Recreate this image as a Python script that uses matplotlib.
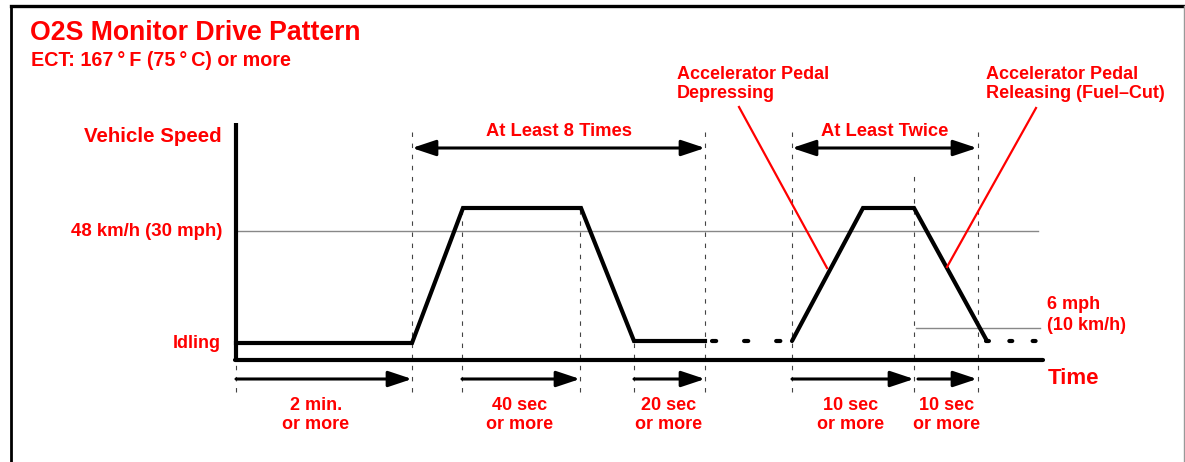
import matplotlib
matplotlib.use("Agg")
import matplotlib.pyplot as plt
from matplotlib.lines import Line2D

plt.rcParams['font.family'] = ['Liberation Sans', 'DejaVu Sans']
plt.rcParams['font.weight'] = 'bold'

RED = '#ff0000'

# schematic values (x = position along time axis, y = height above time axis)
axis_start = 236
axis_end = 1043
axis_top = 237

idle = 17
idle2 = 19
peak = 152
ref_48 = 129
ref_6 = 32

# speed pattern: first cycle, second cycle
cycle1_t = [236, 412, 463, 581, 634, 705]
cycle1_v = [idle, idle, peak, peak, idle2, idle2]
cycle2_t = [792, 863, 914, 987]
cycle2_v = [idle2, peak, peak, idle2]
gap1_t = [712, 790]
gap2_t = [986, 1040]

# dashed guide lines: position, top
guide_t = [236, 412, 462, 580, 634, 705, 792, 914, 978]
guide_top = [0, 232, 150, 150, 17, 232, 232, 187, 232]
guide_bottom = -32

# duration arrows below time axis
dur_start = [236, 462, 634, 792, 918]
dur_end = [412, 580, 705, 914, 977]
dur_text = ["2 min.\nor more", "40 sec\nor more", "20 sec\nor more",
            "10 sec\nor more", "10 sec\nor more"]
dur_x = [316, 520, 669, 851, 947]

# repeat arrows above
rep_start = [412, 792]
rep_end = [705, 977]
rep_text = ["At Least 8 Times", "At Least Twice"]

fig = plt.figure(figsize=(11.85, 4.62), dpi=100)
ax = fig.add_axes([0, 0, 1, 1])
ax.set_xlim(0, 1185)
ax.set_ylim(-102, 360)
ax.axis('off')

# frame
fig.add_artist(Line2D([11 / 1185, 11 / 1185], [0, 1 - 6 / 462], color='black', lw=2.0))
fig.add_artist(Line2D([11 / 1185, 1184 / 1185], [1 - 6 / 462, 1 - 6 / 462], color='black', lw=2.4))
fig.add_artist(Line2D([1184 / 1185, 1184 / 1185], [0, 1 - 6 / 462], color='#999999', lw=1.0))

# reference lines
ax.plot([axis_start, 1038], [ref_48, ref_48], color='#888888', lw=1.0)
ax.plot([916, 1040], [ref_6, ref_6], color='#888888', lw=1.0)

# guides
for t, top in zip(guide_t, guide_top):
    ax.plot([t, t], [guide_bottom, top], color='#444444', lw=0.8,
            linestyle=(0, (4, 6)))

# axes
ax.plot([axis_start, axis_start], [0, axis_top], color='black', lw=3.0,
        solid_capstyle='butt')
ax.plot([axis_start - 1, axis_end], [0, 0], color='black', lw=3.0,
        solid_capstyle='round')

# speed pattern
ax.plot(cycle1_t, cycle1_v, color='black', lw=3.0, solid_joinstyle='miter')
ax.plot(cycle2_t, cycle2_v, color='black', lw=3.0, solid_joinstyle='miter',
        solid_capstyle='round')
ax.plot(gap1_t, [idle2, idle2], color='black', lw=3.0,
        linestyle=(0, (1.0, 6.7)), dash_capstyle='round')
ax.plot(gap2_t, [idle2, idle2], color='black', lw=3.0,
        linestyle=(0, (0.7, 4.9)), dash_capstyle='round')

# duration arrows
for s, e, txt, x in zip(dur_start, dur_end, dur_text, dur_x):
    ax.annotate('', xy=(e, -19), xytext=(s, -19),
                arrowprops=dict(arrowstyle='-|>,head_length=1.2,head_width=0.4',
                                mutation_scale=12, lw=2.2, color='black',
                                shrinkA=0, shrinkB=0))
    ax.text(x, -55, txt, color=RED, fontsize=13, ha='center', va='center',
            linespacing=1.2)

# repeat arrows
for s, e, txt in zip(rep_start, rep_end, rep_text):
    ax.annotate('', xy=(e, 212), xytext=(s, 212),
                arrowprops=dict(arrowstyle='<|-|>,head_length=1.2,head_width=0.4',
                                mutation_scale=12, lw=2.2, color='black',
                                shrinkA=0, shrinkB=0))
    ax.text((s + e) / 2, 229, txt, color=RED, fontsize=13.2, ha='center', va='center')

# leader lines
ax.plot([739, 827], [253, 92], color=RED, lw=1.6)
ax.plot([1036, 947], [252, 93], color=RED, lw=1.6)

# labels
ax.text(30, 327, "O2S Monitor Drive Pattern", color=RED, fontsize=19.2,
        ha='left', va='center')
ax.text(31, 299, "ECT: 167\u2009°\u2009F (75\u2009°\u2009C) or more", color=RED,
        fontsize=14.2, ha='left', va='center')
ax.text(222, 223, "Vehicle Speed", color=RED, fontsize=14.8, ha='right', va='center')
ax.text(222, ref_48 - 1, "48 km/h (30 mph)", color=RED, fontsize=13.4,
        ha='right', va='center')
ax.text(221, idle, "Idling", color=RED, fontsize=13, ha='right', va='center')
ax.text(1048, -18, "Time", color=RED, fontsize=16, ha='left', va='center')
ax.text(1047, 45, "6 mph\n(10 km/h)", color=RED, fontsize=13, ha='left',
        va='center', linespacing=1.3)
ax.text(677, 276, "Accelerator Pedal\nDepressing", color=RED, fontsize=13,
        ha='left', va='center', linespacing=1.2)
ax.text(986, 276, "Accelerator Pedal\nReleasing (Fuel\u2013Cut)", color=RED,
        fontsize=13, ha='left', va='center', linespacing=1.2)

fig.savefig("out.png", dpi=100)
